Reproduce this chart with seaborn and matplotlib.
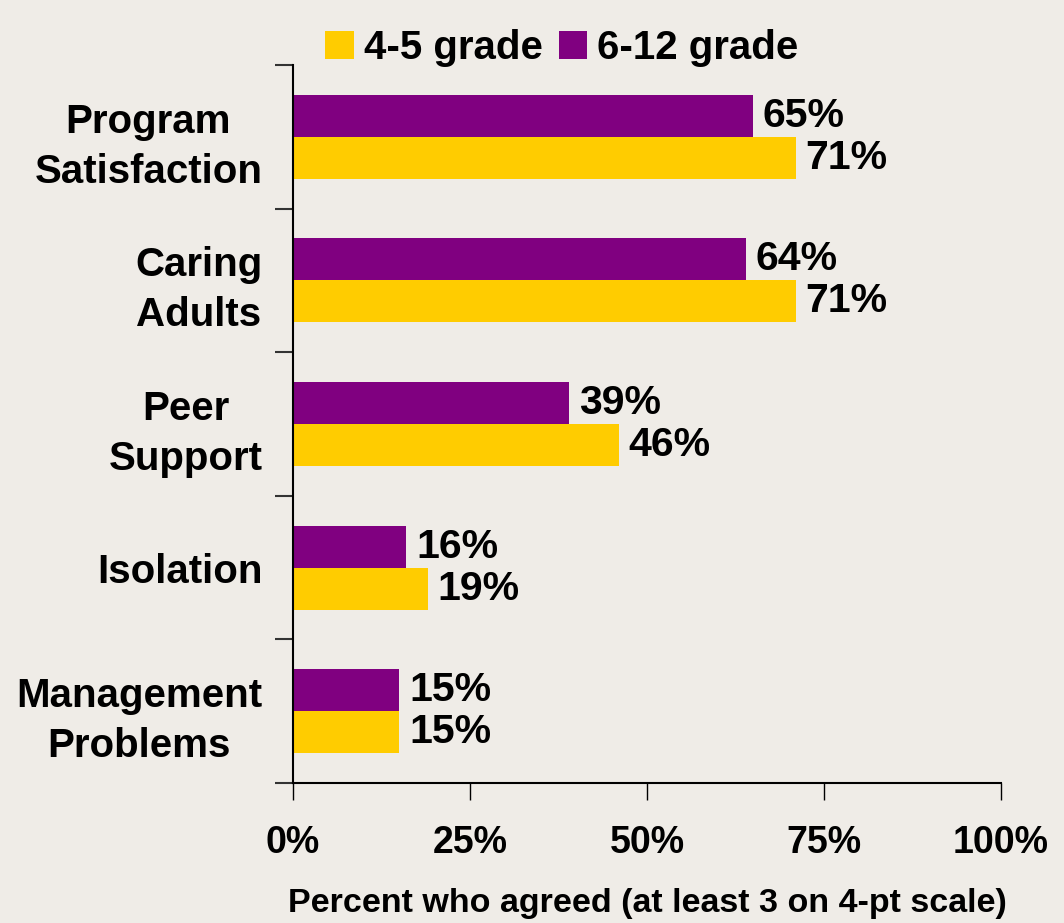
import matplotlib
matplotlib.use("Agg")
import numpy as np
import pandas as pd
import seaborn as sns
from matplotlib import pyplot as plt

# data
categories = ["Program\nSatisfaction", "Caring\nAdults", "Peer\nSupport",
              "Isolation", "Management\nProblems"]
grade_6_12 = [65, 64, 39, 16, 15]
grade_4_5 = [71, 71, 46, 19, 15]
x_ticks = [0, 25, 50, 75, 100]

bg = "#EFECE7"
purple = "#800080"
gold = "#FFCC00"

df = pd.DataFrame({
    "category": categories * 2,
    "group": ["6-12 grade"] * len(categories) + ["4-5 grade"] * len(categories),
    "value": grade_6_12 + grade_4_5,
})

sns.set_theme(style="white")
plt.rcParams["font.family"] = ["Liberation Sans", "DejaVu Sans"]
plt.rcParams["font.weight"] = "bold"
plt.rcParams["text.color"] = "black"
plt.rcParams["axes.labelcolor"] = "black"
plt.rcParams["xtick.color"] = "black"
plt.rcParams["ytick.color"] = "black"

fig = plt.figure(figsize=(10.64, 9.23), dpi=100, facecolor=bg)
ax = fig.add_axes([0.2754, 0.1517, 0.6654, 0.7779])
ax.set_facecolor(bg)

sns.barplot(data=df, y="category", x="value", hue="group",
            hue_order=["6-12 grade", "4-5 grade"],
            palette={"6-12 grade": purple, "4-5 grade": gold},
            order=categories, orient="h", width=0.585,
            saturation=1, linewidth=0, ax=ax)

for cont in ax.containers:
    ax.bar_label(cont, fmt="{:.0f}%", padding=7, fontsize=29.5,
                 fontweight="bold", color="black")

ax.set_xlim(0, 100)
ax.set_ylim(len(categories) - 0.5, -0.5)
ax.set_xticks(x_ticks)
ax.set_xticklabels([f"{t}%" for t in x_ticks], fontsize=27, fontweight="bold")
ax.tick_params(axis="x", length=12, width=1, color="black", pad=18,
               direction="out", bottom=True, labelcolor="black")

# category labels with no tick, ticks drawn between categories
ax.set_yticks(range(len(categories)))
ax.set_yticklabels(categories, fontsize=29, fontweight="bold",
                   multialignment="center", linespacing=1.4)
ax.tick_params(axis="y", which="major", length=0, pad=22, labelcolor="black")
ax.set_yticks(np.arange(-0.5, len(categories), 1), minor=True)
ax.tick_params(axis="y", which="minor", length=13, width=1.5,
               color="#333333", direction="out", left=True)

ax.set_ylabel("")
ax.set_xlabel("Percent who agreed (at least 3 on 4-pt scale)",
              fontsize=24.5, fontweight="bold", labelpad=20, color="black")

for side in ["top", "right"]:
    ax.spines[side].set_visible(False)
for side in ["left", "bottom"]:
    ax.spines[side].set_color("black")
    ax.spines[side].set_linewidth(1.5)

handles, labels = ax.get_legend_handles_labels()
ax.get_legend().remove()
leg = fig.legend(handles[::-1], labels[::-1], loc="upper center",
                 bbox_to_anchor=(0.528, 1.008), ncol=2, frameon=False,
                 prop={"size": 29, "weight": "bold"},
                 handlelength=0.7, handleheight=0.7, handletextpad=0.25,
                 columnspacing=0.4)
for t in leg.get_texts():
    t.set_color("black")

fig.savefig("out.png", dpi=100, facecolor=bg)
